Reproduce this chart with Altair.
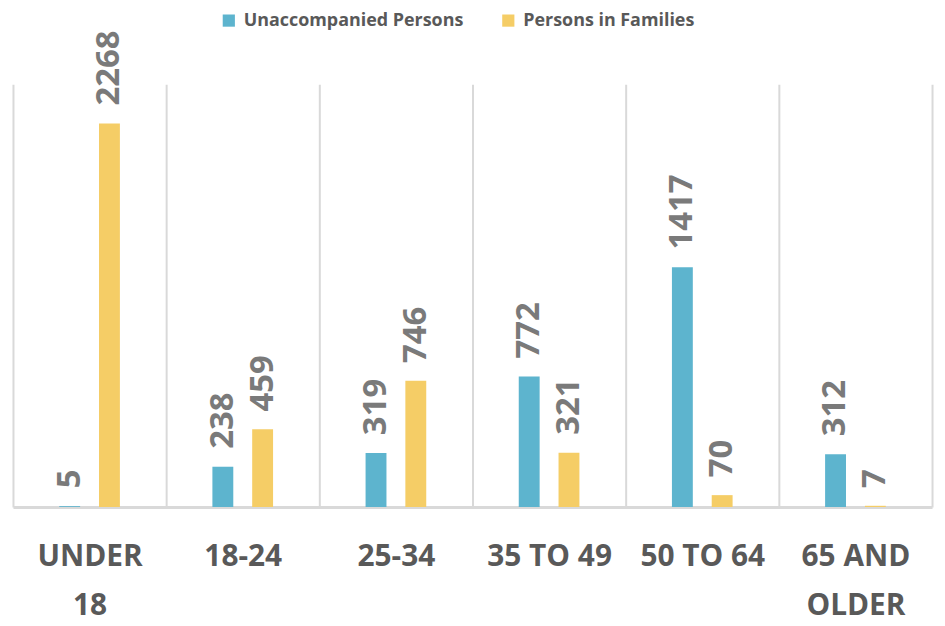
import altair as alt
import pandas as pd

categories = ["UNDER 18", "18-24", "25-34", "35 TO 49", "50 TO 64", "65 AND OLDER"]
series = ["Unaccompanied Persons", "Persons in Families"]
unaccompanied = [5, 238, 319, 772, 1417, 312]
families = [2268, 459, 746, 321, 70, 7]
colors = ["#5DB4CE", "#F5CD66"]

rows = []
for c, u, f in zip(categories, unaccompanied, families):
    rows.append({"cat": c, "series": series[0], "value": u})
    rows.append({"cat": c, "series": series[1], "value": f})
df = pd.DataFrame(rows)

label_expr = ("datum.label == 'UNDER 18' ? ['UNDER', '18'] : "
              "datum.label == '65 AND OLDER' ? ['65 AND', 'OLDER'] : datum.label")

x = alt.X("cat:N", sort=categories, title=None,
          scale=alt.Scale(paddingInner=0, paddingOuter=0),
          axis=alt.Axis(labelAngle=0, labelExpr=label_expr, labelFont="Open Sans",
                        labelFontSize=30, labelFontWeight="bold", labelColor="#595959",
                        labelPadding=35, labelLineHeight=49, labelBaseline="top",
                        ticks=False, grid=True, tickBand="extent", gridColor="#D9D9D9",
                        gridWidth=2, domainColor="#D9D9D9", domainWidth=3))
xo = alt.XOffset("series:N", sort=series,
                 scale=alt.Scale(range=[46.5, 107.5], paddingInner=0.475, paddingOuter=0))
y = alt.Y("value:Q", scale=alt.Scale(domain=[0, 2500]), axis=None)

base = alt.Chart(df)
bars = base.mark_bar().encode(
    x=x, xOffset=xo, y=y,
    color=alt.Color("series:N", sort=series,
                    scale=alt.Scale(domain=series, range=colors),
                    legend=alt.Legend(title=None, orient="none", direction="horizontal",
                                      legendX=208, legendY=-73, symbolType="square",
                                      symbolSize=150, symbolStrokeWidth=0,
                                      labelFont="Open Sans", labelFontSize=18,
                                      labelFontWeight="bold", labelColor="#595959",
                                      labelLimit=400, columnPadding=36, labelOffset=6)),
)
text = base.mark_text(angle=270, align="left", baseline="middle", dx=18,
                      font="Open Sans", fontSize=33, fontWeight="bold",
                      color="#7A7A7A").encode(
    x=x, xOffset=xo, y=y, text=alt.Text("value:Q")
)

chart = (bars + text).properties(
    width=924, height=425,
    padding={"left": 5, "top": 75, "right": 5, "bottom": 117},
    autosize=alt.AutoSizeParams(type="none"),
).configure_view(stroke=None)

chart.save("out.html", embed_options={"renderer": "svg", "actions": False})
